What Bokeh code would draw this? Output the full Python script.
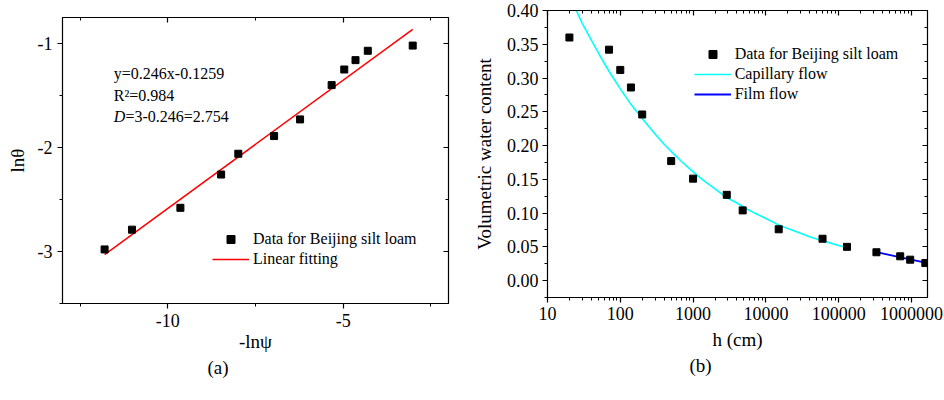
from bokeh.plotting import figure
from bokeh.models import (Range1d, FixedTicker, LinearAxis, LogAxis, Label, Legend,
                          LegendItem, CustomJSTickFormatter, Title)
from bokeh.layouts import row, column
from bokeh.embed import file_html
from bokeh.resources import INLINE

FONT = "Liberation Serif"
TICK_FS = "18px"
TITLE_FS = "19px"
SMALL_FS = "16px"

# ---------------- Panel (a) data ----------------
neg_ln_psi = [-11.80, -11.02, -9.64, -8.48, -7.99, -6.97, -6.23, -5.33, -4.97, -4.65, -4.30, -3.02]
ln_theta = [-2.98, -2.79, -2.58, -2.26, -2.06, -1.89, -1.73, -1.40, -1.25, -1.16, -1.07, -1.02]
fit_x = [-11.80, -3.02]
fit_y = [-3.03, -0.865]
a_xticks = [-10, -5]
a_xminor = [-12.5, -7.5, -2.5]
a_yticks = [-3, -2, -1]
a_yminor = [-3.5, -2.5, -1.5]
a_xtitle = "-ln\u03c8"
a_ytitle = "ln\u03b8"
a_caption = "(a)"
eq_text = "y=0.246x-0.1259"
r2_text = "R\u00b2=0.984"
d_sym = "D"
d_text = "=3-0.246=2.754"
legend_data = "Data for Beijing silt loam"
legend_fit = "Linear fitting"

# ---------------- Panel (b) data ----------------
h_cm = [20, 70, 100, 140, 200, 500, 1000, 2900, 4800, 15000, 60000, 130000,
        330000, 700000, 960000, 1550000]
theta = [0.360, 0.342, 0.312, 0.286, 0.246, 0.177, 0.151, 0.127, 0.104, 0.076, 0.062, 0.050,
         0.042, 0.036, 0.031, 0.026]
cap_h = [20, 30, 40, 55, 70, 100, 140, 200, 300, 400, 550, 700, 1000, 1400, 2000, 3000, 4000,
         5500, 7000, 10000, 14000, 20000, 30000, 40000, 55000, 70000, 100000, 130000]
cap_theta = [0.422, 0.381, 0.356, 0.329, 0.310, 0.284, 0.261, 0.240, 0.217, 0.202, 0.187, 0.176,
             0.161, 0.148, 0.136, 0.122, 0.115, 0.106, 0.100, 0.092, 0.084, 0.077, 0.070, 0.065,
             0.060, 0.057, 0.052, 0.049]
film_h = [320000, 1660000]
film_theta = [0.0425, 0.0258]
b_xticks = [10, 100, 1000, 10000, 100000, 1000000]
b_xminor = [m * d for d in [10, 100, 1000, 10000, 100000, 1000000] for m in range(2, 10)]
b_yticks = [0.0, 0.05, 0.10, 0.15, 0.20, 0.25, 0.30, 0.35, 0.40]
b_yminor = [-0.025, 0.025, 0.075, 0.125, 0.175, 0.225, 0.275, 0.325, 0.375]
b_xtitle = "h (cm)"
b_ytitle = "Volumetric water content"
b_caption = "(b)"
legend_cap = "Capillary flow"
legend_film = "Film flow"

FMT_PLAIN = "return String(tick);"
FMT_2DP = "return tick.toFixed(2);"
FMT_NONE = "return '';"


def style_axis(ax, ticks, minor, inside=False, standoff=5, fmt=FMT_PLAIN):
    ax.ticker = FixedTicker(ticks=ticks, minor_ticks=minor)
    ax.axis_line_color = "black"
    ax.axis_line_width = 1.2
    ax.major_tick_line_color = "black"
    ax.minor_tick_line_color = "black"
    ax.major_tick_line_width = 1.2
    ax.minor_tick_line_width = 1
    ax.major_label_text_font = FONT
    ax.major_label_text_font_size = TICK_FS
    ax.major_label_text_color = "black"
    ax.axis_label_text_font = FONT
    ax.axis_label_text_font_size = TITLE_FS
    ax.axis_label_text_font_style = "normal"
    ax.axis_label_text_color = "black"
    if inside:
        ax.major_tick_in = 5
        ax.major_tick_out = 0
        ax.minor_tick_in = 3
        ax.minor_tick_out = 0
        ax.formatter = CustomJSTickFormatter(code=FMT_NONE)
        ax.major_label_standoff = 0
    else:
        ax.major_tick_in = 0
        ax.major_tick_out = 5
        ax.minor_tick_in = 0
        ax.minor_tick_out = 3
        ax.formatter = CustomJSTickFormatter(code=fmt)
        ax.major_label_standoff = standoff


def lab(p, x, y, text, size=SMALL_FS, italic=False):
    p.add_layout(Label(x=x, y=y, x_units="screen", y_units="screen", text=text,
                       text_font=FONT, text_font_size=size,
                       text_font_style="italic" if italic else "normal",
                       text_color="black", text_align="left", text_baseline="alphabetic"))


def caption(p, text, offset):
    p.add_layout(Title(text=text, align="left", offset=offset, standoff=0,
                       text_font=FONT, text_font_size=TITLE_FS, text_font_style="normal",
                       text_color="black"), "below")


# ---------------- Figure (a) ----------------
p1 = figure(width=470, height=400, x_range=Range1d(-13, -2), y_range=Range1d(-3.5, -0.75),
            output_backend="svg", toolbar_location=None, title=None,
            min_border_left=62, min_border_right=22, min_border_top=17, min_border_bottom=97)
p1.grid.visible = False
p1.outline_line_color = "black"
p1.background_fill_color = "white"
p1.border_fill_color = "white"
style_axis(p1.xaxis[0], a_xticks, a_xminor, standoff=5)
p1.xaxis[0].axis_label = a_xtitle
p1.xaxis[0].axis_label_standoff = 1
style_axis(p1.yaxis[0], a_yticks, a_yminor, standoff=5)
p1.yaxis[0].axis_label = a_ytitle
p1.yaxis[0].axis_label_standoff = 7
ax_top = LinearAxis()
style_axis(ax_top, a_xticks, a_xminor, inside=True)
p1.add_layout(ax_top, "above")
ax_right = LinearAxis()
style_axis(ax_right, a_yticks, a_yminor, inside=True)
p1.add_layout(ax_right, "right")
caption(p1, a_caption, 145)

r_fit = p1.line(fit_x, fit_y, line_color="#FF0000", line_width=1.5)
r_pts = p1.scatter(neg_ln_psi, ln_theta, marker="square", size=7, fill_color="black",
                   line_color="black")
leg1 = Legend(items=[LegendItem(label=legend_data, renderers=[r_pts]),
                     LegendItem(label=legend_fit, renderers=[r_fit])],
              location=(150, 34), glyph_width=37, glyph_height=20, label_height=20,
              label_standoff=4, padding=0, spacing=0, margin=0,
              border_line_color=None, background_fill_alpha=0,
              label_text_font=FONT, label_text_font_size=SMALL_FS, label_text_color="black")
p1.add_layout(leg1)

lab(p1, 51.3, 229.7, eq_text)
lab(p1, 51.3, 208, r2_text)
lab(p1, 51.3, 187.5, d_sym, italic=True)
lab(p1, 62.9, 187.5, d_text)

# ---------------- Figure (b) ----------------
p2 = figure(width=474, height=400, x_axis_type="log", x_range=Range1d(10, 1660000),
            y_range=Range1d(-0.025, 0.40), output_backend="svg", toolbar_location=None,
            title=None, min_border_left=71, min_border_right=17, min_border_top=10,
            min_border_bottom=103)
p2.grid.visible = False
p2.outline_line_color = "black"
p2.background_fill_color = "white"
p2.border_fill_color = "white"
style_axis(p2.xaxis[0], b_xticks, b_xminor, standoff=4)
p2.xaxis[0].axis_label = b_xtitle
p2.xaxis[0].axis_label_standoff = 6
style_axis(p2.yaxis[0], b_yticks, b_yminor, standoff=4, fmt=FMT_2DP)
p2.yaxis[0].axis_label = b_ytitle
p2.yaxis[0].axis_label_standoff = 9
bx_top = LogAxis()
style_axis(bx_top, b_xticks, b_xminor, inside=True)
p2.add_layout(bx_top, "above")
by_right = LinearAxis()
style_axis(by_right, b_yticks, b_yminor, inside=True)
p2.add_layout(by_right, "right")
caption(p2, b_caption, 142)

r_cap = p2.line(cap_h, cap_theta, line_color="#00FFFF", line_width=1.6)
r_film = p2.line(film_h, film_theta, line_color="#0000FF", line_width=1.8)
r_pts2 = p2.scatter(h_cm, theta, marker="square", size=7, fill_color="black", line_color="black")
leg2 = Legend(items=[LegendItem(label=legend_data, renderers=[r_pts2]),
                     LegendItem(label=legend_cap, renderers=[r_cap]),
                     LegendItem(label=legend_film, renderers=[r_film])],
              location=(146.7, 193), glyph_width=37, glyph_height=20, label_height=20,
              label_standoff=4, padding=0, spacing=0, margin=0,
              border_line_color=None, background_fill_alpha=0,
              label_text_font=FONT, label_text_font_size=SMALL_FS, label_text_color="black")
p2.add_layout(leg2)

layout = row(column(p1), column(p2))
open("out.html", "w").write(file_html(layout, INLINE, title="Soil water retention"))
